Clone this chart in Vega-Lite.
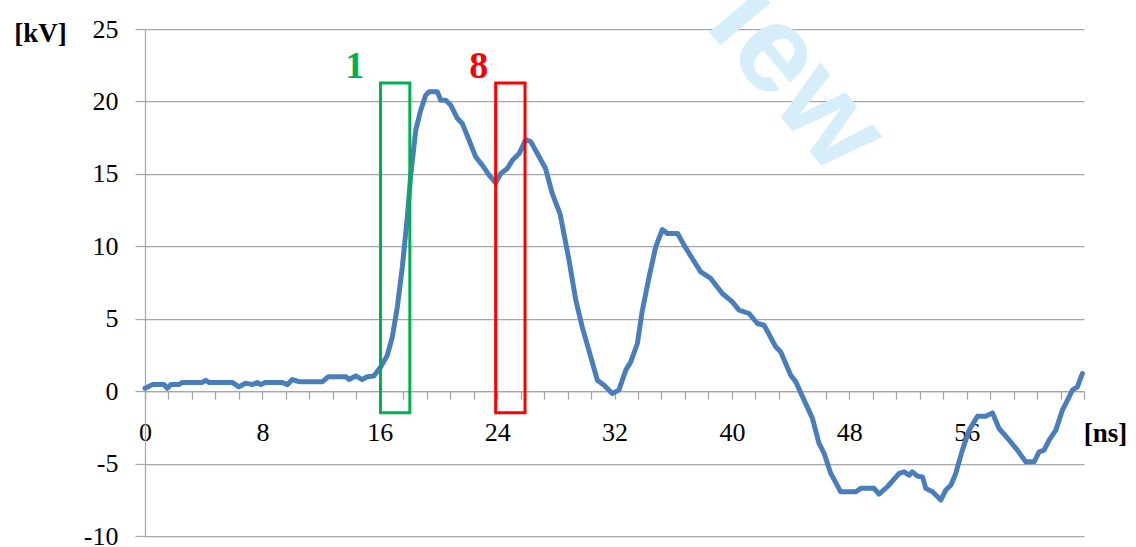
{
  "$schema": "https://vega.github.io/schema/vega-lite/v6.json",
  "width": 939,
  "height": 507,
  "autosize": "none",
  "padding": {"left": 145, "top": 29, "right": 52, "bottom": 11},
  "background": "white",
  "config": {"view": {"stroke": null}, "font": "Liberation Serif"},
  "datasets": {
    "wave": [
      {"x": 0, "y": 0.2}, {"x": 0.5, "y": 0.45}, {"x": 1.3, "y": 0.45}, {"x": 1.52, "y": 0.2}, {"x": 1.75, "y": 0.45},
      {"x": 2.3, "y": 0.45}, {"x": 2.55, "y": 0.6}, {"x": 3.9, "y": 0.6}, {"x": 4.14, "y": 0.75}, {"x": 4.36, "y": 0.6},
      {"x": 5.95, "y": 0.6}, {"x": 6.4, "y": 0.3}, {"x": 6.86, "y": 0.55}, {"x": 7.3, "y": 0.45}, {"x": 7.65, "y": 0.6},
      {"x": 7.9, "y": 0.45}, {"x": 8.2, "y": 0.6}, {"x": 9.36, "y": 0.6}, {"x": 9.7, "y": 0.45}, {"x": 10.04, "y": 0.8},
      {"x": 10.5, "y": 0.65}, {"x": 12.1, "y": 0.65}, {"x": 12.5, "y": 1.0}, {"x": 13.7, "y": 1.0}, {"x": 13.9, "y": 0.8},
      {"x": 14.36, "y": 1.05}, {"x": 14.8, "y": 0.8}, {"x": 15.15, "y": 1.0}, {"x": 15.6, "y": 1.05}, {"x": 16.07, "y": 1.68},
      {"x": 16.52, "y": 2.48}, {"x": 16.86, "y": 3.75}, {"x": 17.2, "y": 5.82}, {"x": 17.54, "y": 8.58}, {"x": 17.88, "y": 12.03},
      {"x": 18.1, "y": 14.79}, {"x": 18.45, "y": 18.0}, {"x": 18.79, "y": 19.39}, {"x": 19.13, "y": 20.43}, {"x": 19.36, "y": 20.66},
      {"x": 19.93, "y": 20.66}, {"x": 20.16, "y": 20.08}, {"x": 20.5, "y": 20.08}, {"x": 20.84, "y": 19.74}, {"x": 21.3, "y": 18.82},
      {"x": 21.63, "y": 18.47}, {"x": 22.09, "y": 17.32}, {"x": 22.54, "y": 16.17}, {"x": 22.99, "y": 15.6}, {"x": 23.45, "y": 14.91},
      {"x": 23.9, "y": 14.38}, {"x": 24.25, "y": 15.02}, {"x": 24.7, "y": 15.37}, {"x": 25.04, "y": 15.94}, {"x": 25.5, "y": 16.4},
      {"x": 25.95, "y": 17.37}, {"x": 26.3, "y": 17.21}, {"x": 26.74, "y": 16.4}, {"x": 27.3, "y": 15.37}, {"x": 27.76, "y": 13.64},
      {"x": 28.3, "y": 12.2}, {"x": 28.9, "y": 9.04}, {"x": 29.36, "y": 6.28}, {"x": 29.8, "y": 4.44}, {"x": 30.38, "y": 2.37},
      {"x": 30.83, "y": 0.76}, {"x": 31.29, "y": 0.41}, {"x": 31.85, "y": -0.16}, {"x": 32.3, "y": 0.07}, {"x": 32.77, "y": 1.45},
      {"x": 33.11, "y": 2.02}, {"x": 33.56, "y": 3.29}, {"x": 33.9, "y": 5.59}, {"x": 34.36, "y": 7.89}, {"x": 34.81, "y": 9.96},
      {"x": 35.26, "y": 11.16}, {"x": 35.6, "y": 10.88}, {"x": 36.3, "y": 10.88}, {"x": 36.74, "y": 10.08}, {"x": 37.3, "y": 9.16},
      {"x": 37.88, "y": 8.23}, {"x": 38.56, "y": 7.78}, {"x": 39.35, "y": 6.74}, {"x": 40.03, "y": 6.16}, {"x": 40.49, "y": 5.59},
      {"x": 41.17, "y": 5.36}, {"x": 41.74, "y": 4.67}, {"x": 42.2, "y": 4.55}, {"x": 42.99, "y": 3.06}, {"x": 43.33, "y": 2.71},
      {"x": 44.01, "y": 1.1}, {"x": 44.36, "y": 0.64}, {"x": 44.92, "y": -0.62}, {"x": 45.49, "y": -1.88}, {"x": 45.94, "y": -3.61},
      {"x": 46.29, "y": -4.3}, {"x": 46.74, "y": -5.68}, {"x": 47.42, "y": -6.95}, {"x": 48.45, "y": -6.95}, {"x": 48.79, "y": -6.71},
      {"x": 49.69, "y": -6.71}, {"x": 50.03, "y": -7.11}, {"x": 50.6, "y": -6.6}, {"x": 51.4, "y": -5.68}, {"x": 51.74, "y": -5.57},
      {"x": 52.08, "y": -5.8}, {"x": 52.3, "y": -5.57}, {"x": 52.65, "y": -5.87}, {"x": 52.99, "y": -5.92}, {"x": 53.22, "y": -6.71},
      {"x": 53.67, "y": -6.95}, {"x": 54.24, "y": -7.52}, {"x": 54.58, "y": -6.83}, {"x": 54.92, "y": -6.49}, {"x": 55.26, "y": -5.68},
      {"x": 55.71, "y": -4.07}, {"x": 56.17, "y": -2.69}, {"x": 56.74, "y": -1.73}, {"x": 57.3, "y": -1.73}, {"x": 57.76, "y": -1.5},
      {"x": 58.21, "y": -2.58}, {"x": 58.9, "y": -3.38}, {"x": 59.46, "y": -4.07}, {"x": 60.03, "y": -4.88}, {"x": 60.6, "y": -4.88},
      {"x": 60.94, "y": -4.19}, {"x": 61.28, "y": -4.07}, {"x": 61.62, "y": -3.38}, {"x": 62.08, "y": -2.69}, {"x": 62.53, "y": -1.31},
      {"x": 62.99, "y": -0.39}, {"x": 63.21, "y": 0.07}, {"x": 63.55, "y": 0.3}, {"x": 63.89, "y": 1.22}
    ],
    "boxes": [
      {"label": "1", "x": 16.05, "x2": 18.05, "y": -1.5, "y2": 21.28},
      {"label": "8", "x": 23.9, "x2": 25.9, "y": -1.5, "y2": 21.28}
    ],
    "boxlabels": [
      {"label": "1", "x": 14.3, "y": 22.36},
      {"label": "8", "x": 22.75, "y": 22.36}
    ],
    "watermark": [
      {"x": 44.4, "y": 21.6, "t": "iew"}
    ]
  },
  "encoding": {
    "x": {
      "field": "x", "type": "quantitative",
      "scale": {"domain": [0, 64], "nice": false, "zero": false},
      "axis": {
        "orient": "bottom", "offset": -144.86,
        "values": [0,1.6,3.2,4.8,6.4,8,9.6,11.2,12.8,14.4,16,17.6,19.2,20.8,22.4,24,25.6,27.2,28.8,30.4,32,33.6,35.2,36.8,38.4,40,41.6,43.2,44.8,46.4,48,49.6,51.2,52.8,54.4,56,57.6,59.2,60.8,62.4,64],
        "labelExpr": "(datum.value % 8 === 0 && datum.value < 60) ? toString(datum.value) : ''",
        "title": "[ns]", "titleX": 960, "titleY": 42, "titleAlign": "center", "titleBaseline": "middle", "titleAngle": 0,
        "titleFont": "Liberation Serif", "titleFontWeight": "bold", "titleFontSize": 27, "titleColor": "black",
        "labelFont": "Liberation Serif", "labelFontSize": 26, "labelColor": "black", "labelPadding": 20,
        "labelFlush": false, "labelOverlap": false, "labelBound": false,
        "tickSize": 8, "tickColor": "#a6a6a6", "tickWidth": 1.25,
        "domainColor": "#a6a6a6", "domainWidth": 1.25, "grid": false
      }
    },
    "y": {
      "field": "y", "type": "quantitative",
      "scale": {"domain": [-10, 25], "nice": false, "zero": false},
      "axis": {
        "orient": "left", "values": [-10, -5, 0, 5, 10, 15, 20, 25],
        "labelExpr": "toString(datum.value)",
        "title": "[kV]", "titleAngle": 0, "titleX": -105, "titleY": 4, "titleAlign": "center", "titleBaseline": "middle",
        "titleFont": "Liberation Serif", "titleFontWeight": "bold", "titleFontSize": 27, "titleColor": "black",
        "labelFont": "Liberation Serif", "labelFontSize": 26, "labelColor": "black", "labelPadding": 17,
        "labelOverlap": false,
        "tickSize": 10, "tickColor": "#a6a6a6", "tickWidth": 1.25,
        "domainColor": "#a6a6a6", "domainWidth": 1.25,
        "grid": true, "gridColor": "#a6a6a6", "gridWidth": 1.25
      }
    }
  },
  "layer": [
    {
      "data": {"name": "wave"},
      "mark": {"type": "line", "color": "#4a7ebb", "strokeWidth": 5, "strokeCap": "round", "strokeJoin": "round"}
    },
    {
      "data": {"name": "watermark"},
      "mark": {"type": "text", "font": "Liberation Sans", "fontWeight": "bold", "fontSize": 124, "angle": 50, "color": "#d5eefa", "align": "center", "baseline": "middle"},
      "encoding": {"text": {"field": "t"}}
    },
    {
      "data": {"name": "boxes"},
      "mark": {"type": "rect", "filled": false, "strokeWidth": 3},
      "encoding": {
        "x2": {"field": "x2"},
        "y2": {"field": "y2"},
        "stroke": {"field": "label", "type": "nominal", "scale": {"domain": ["1", "8"], "range": ["#00b050", "#ff0000"]}, "legend": null}
      }
    },
    {
      "data": {"name": "boxlabels"},
      "mark": {"type": "text", "font": "Liberation Serif", "fontWeight": "bold", "fontSize": 38, "align": "center", "baseline": "middle"},
      "encoding": {
        "text": {"field": "label"},
        "color": {"field": "label", "type": "nominal", "scale": {"domain": ["1", "8"], "range": ["#00b050", "#ff0000"]}, "legend": null}
      }
    }
  ]
}
